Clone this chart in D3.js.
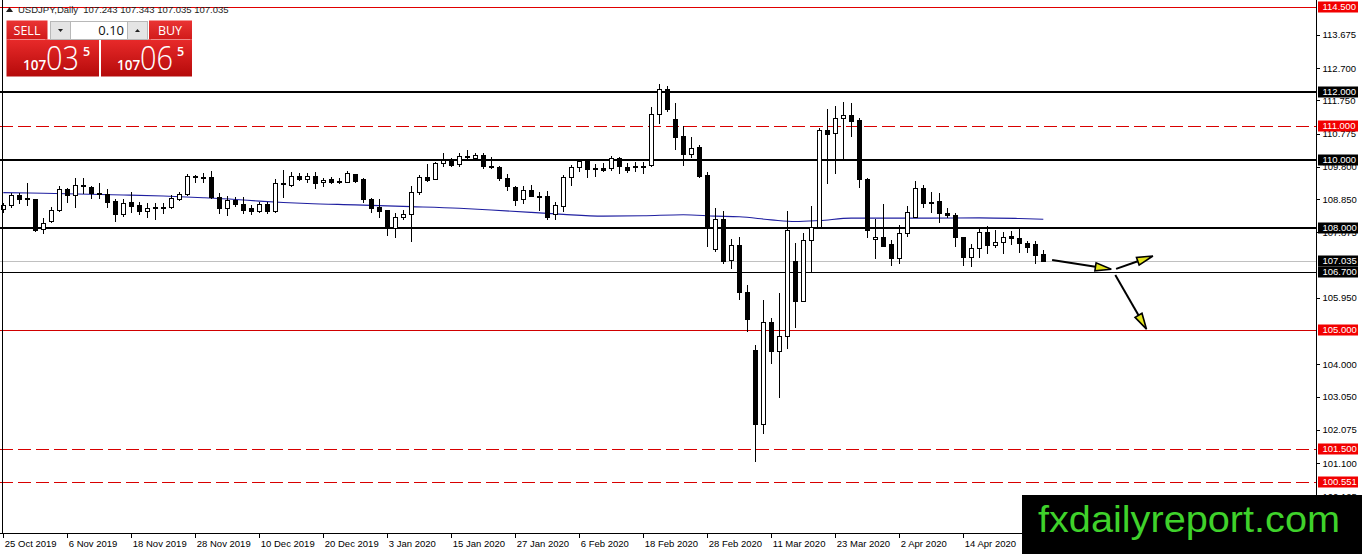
<!DOCTYPE html>
<html lang="en">
<head>
  <meta charset="UTF-8">
  <title>USDJPY, Daily</title>
  <script src="https://d3js.org/d3.v7.min.js"></script>
  <style>
    body { margin: 0; background: #fff; }
    svg { display: block; font-family: "Liberation Sans", Arial, sans-serif; }
  </style>
</head>
<body>
  <svg id="chart" width="1362" height="554"></svg>

  <script>
    // daily bars, oldest first (bar 0 = 25 Oct 2019)
    const opens = [
      108.55, 108.68, 108.97, 108.87, 108.84, 107.98, 108.21, 108.53, 109.14, 108.97,
      109.27, 109.20, 109.03, 108.99, 108.80, 108.40, 108.77, 108.68, 108.51, 108.62,
      108.61, 108.61, 108.85, 108.99, 109.53, 109.49, 109.51, 108.92, 108.58, 108.82,
      108.72, 108.58, 108.51, 108.71, 108.51, 109.31, 109.26, 109.54, 109.43, 109.54,
      109.34, 109.43, 109.39, 109.36, 109.59, 109.43, 108.84, 108.63, 108.53, 108.01,
      108.31, 108.40, 109.07, 109.51, 109.43, 109.90, 109.98, 109.87, 110.10, 110.05,
      110.14, 109.83, 109.80, 109.48, 109.20, 108.84, 109.12, 108.95, 108.94, 108.41,
      108.66, 109.49, 109.78, 110.00, 109.75, 109.77, 109.75, 110.05, 109.78, 109.82,
      109.83, 109.85, 111.35, 112.07, 111.19, 110.70, 110.17, 110.37, 109.55, 107.37,
      108.28, 107.06, 107.50, 106.11, 104.42, 102.26, 105.23, 104.40, 104.84, 107.03,
      105.87, 107.64, 108.02, 110.88, 110.78, 111.22, 111.32, 111.17, 109.43, 107.67,
      107.73, 107.53, 107.11, 107.84, 108.31, 109.17, 108.73, 108.79, 108.43, 108.38,
      107.73, 107.16, 107.40, 107.89, 107.50, 107.58, 107.78, 107.70, 107.57, 107.53,
      107.243
    ];
    const highs = [
      108.73, 109.04, 109.04, 109.31, 108.86, 108.29, 108.63, 109.23, 109.19, 109.46,
      109.46, 109.23, 109.31, 109.14, 108.84, 108.84, 109.05, 108.77, 108.73, 108.75,
      108.73, 108.97, 109.07, 109.59, 109.56, 109.61, 109.68, 109.02, 108.94, 108.92,
      108.90, 108.68, 108.77, 108.77, 109.43, 109.70, 109.66, 109.61, 109.61, 109.64,
      109.48, 109.51, 109.48, 109.68, 109.59, 109.48, 108.87, 108.85, 108.53, 108.43,
      108.53, 109.23, 109.56, 109.87, 109.93, 110.19, 110.05, 110.19, 110.29, 110.19,
      110.19, 110.10, 109.82, 109.58, 109.22, 109.22, 109.26, 109.07, 109.09, 108.77,
      109.56, 109.85, 110.00, 110.00, 109.87, 109.92, 110.12, 110.10, 109.90, 109.95,
      109.95, 111.56, 112.23, 112.17, 111.66, 110.99, 110.68, 110.44, 109.64, 108.58,
      108.51, 107.67, 107.75, 106.33, 104.57, 105.89, 105.35, 106.10, 108.50, 107.55,
      107.85, 108.65, 110.93, 111.49, 111.58, 111.69, 111.66, 111.22, 109.46, 108.28,
      108.71, 107.65, 108.09, 108.65, 109.38, 109.26, 109.07, 109.04, 108.58, 108.43,
      107.73, 107.53, 108.02, 108.06, 107.94, 107.89, 107.91, 108.02, 107.63, 107.63,
      107.343
    ];
    const lows = [
      108.48, 108.63, 108.73, 108.68, 107.91, 107.86, 108.17, 108.51, 108.77, 108.63,
      109.04, 108.87, 108.87, 108.63, 108.22, 108.36, 108.48, 108.41, 108.33, 108.26,
      108.45, 108.60, 108.82, 108.97, 109.36, 109.36, 108.87, 108.45, 108.38, 108.65,
      108.43, 108.40, 108.46, 108.43, 108.48, 108.92, 109.24, 109.41, 109.36, 109.17,
      109.22, 109.31, 109.31, 109.34, 109.36, 108.77, 108.46, 108.33, 107.81, 107.75,
      108.27, 107.62, 108.99, 109.39, 109.43, 109.83, 109.83, 109.83, 110.03, 110.03,
      109.75, 109.75, 109.41, 109.12, 108.68, 108.73, 108.95, 108.53, 108.28, 108.28,
      108.51, 109.26, 109.68, 109.51, 109.53, 109.68, 109.70, 109.61, 109.65, 109.67,
      109.63, 109.82, 111.09, 111.45, 110.31, 109.85, 110.09, 109.51, 107.48, 107.33,
      106.98, 106.82, 105.92, 104.99, 101.17, 101.97, 104.05, 103.05, 104.47, 105.10,
      105.87, 106.72, 107.99, 109.31, 109.63, 110.07, 110.70, 109.20, 107.73, 107.11,
      107.48, 106.90, 106.98, 107.78, 108.31, 108.63, 108.48, 108.19, 108.33, 107.47,
      106.91, 106.89, 107.14, 107.28, 107.45, 107.26, 107.53, 107.30, 107.30, 106.96,
      107.035
    ];
    const closes = [
      108.68, 108.97, 108.85, 108.84, 107.94, 108.16, 108.53, 109.14, 108.97, 109.26,
      109.23, 109.02, 109.00, 108.77, 108.40, 108.75, 108.66, 108.51, 108.58, 108.60,
      108.58, 108.87, 108.99, 109.53, 109.49, 109.51, 108.92, 108.58, 108.82, 108.72,
      108.53, 108.51, 108.71, 108.51, 109.31, 109.28, 109.54, 109.43, 109.54, 109.31,
      109.41, 109.34, 109.37, 109.63, 109.38, 108.84, 108.60, 108.50, 108.04, 108.31,
      108.41, 109.07, 109.49, 109.41, 109.90, 110.00, 109.85, 110.13, 110.11, 110.14,
      109.83, 109.80, 109.46, 109.22, 108.82, 109.12, 108.95, 108.92, 108.33, 108.68,
      109.49, 109.78, 109.97, 109.72, 109.72, 109.70, 110.05, 109.82, 109.70, 109.80,
      109.82, 111.34, 112.07, 111.51, 110.68, 110.16, 110.36, 109.54, 108.06, 108.28,
      107.03, 107.50, 106.11, 105.32, 102.26, 105.23, 104.40, 104.84, 107.94, 105.87,
      107.64, 108.02, 110.88, 110.77, 111.22, 111.32, 111.15, 109.43, 107.94, 107.74,
      107.48, 107.11, 107.84, 108.48, 109.17, 108.73, 108.77, 108.43, 108.38, 107.73,
      107.16, 107.40, 107.89, 107.50, 107.58, 107.75, 107.70, 107.55, 107.43, 107.21,
      107.035
    ];

    // moving average at a few bars
    const maBars = [0, 5, 15, 20, 25, 29, 32, 35, 38, 44, 51, 57, 61, 66, 70, 75, 80, 85, 89, 92, 96, 99, 102, 106, 110, 116, 122, 127, 130];
    const maValues = [109.04, 109.02, 108.97, 108.94, 108.89, 108.84, 108.79, 108.75, 108.72, 108.68, 108.63, 108.58, 108.53, 108.46, 108.40, 108.35, 108.36, 108.39, 108.35, 108.33, 108.24, 108.19, 108.22, 108.29, 108.29, 108.29, 108.30, 108.28, 108.26];

    const dateTicks = [0, 8, 16, 24, 32, 40, 48, 56, 64, 72, 80, 88, 96, 104, 112, 120];
    const dateLabels = ["25 Oct 2019", "6 Nov 2019", "18 Nov 2019", "28 Nov 2019", "10 Dec 2019", "20 Dec 2019",
      "3 Jan 2020", "15 Jan 2020", "27 Jan 2020", "6 Feb 2020", "18 Feb 2020", "28 Feb 2020",
      "11 Mar 2020", "23 Mar 2020", "2 Apr 2020", "14 Apr 2020"];

    // scale labels that are not hidden behind a level tag
    const priceTicks = [113.675, 112.700, 111.750, 110.775, 109.800, 108.850, 107.875,
      105.950, 104.000, 103.050, 102.075, 101.100, 100.125];

    // horizontal levels drawn on the chart
    const levelValues = [114.500, 112.000, 111.000, 110.000, 108.000, 107.035, 106.700, 105.000, 101.500, 100.551];
    const levelTypes = ["limit", "major", "minor", "major", "major", "bid", "support", "target", "minor", "minor"];

    // forecast arrows: [bar, price]
    const arrowFrom = [[131.1, 107.06], [139.1, 106.80], [139.0, 106.62]];
    const arrowTo = [[138.5, 106.79], [143.7, 107.18], [142.9, 105.03]];

    const symbolLine = "USDJPY,Daily  107.243 107.343 107.035 107.035";
    const lotSize = "0.10";
    const bidParts = ["107", "03", "5"];
    const askParts = ["107", "06", "5"];

    const levelStyle = {
      limit:   { stroke: "#e00000", width: 1, dash: null,   box: "#f20000" },
      major:   { stroke: "#000000", width: 2, dash: null,   box: "#000000" },
      minor:   { stroke: "#d80000", width: 1, dash: "13,5", box: "#f20000" },
      bid:     { stroke: "#c0c0c0", width: 1, dash: null,   box: "#000000" },
      support: { stroke: "#000000", width: 1, dash: null,   box: "#000000" },
      target:  { stroke: "#d00000", width: 1, dash: null,   box: "#f20000" }
    };

    const axisX = 1316;   // price scale border
    const axisY = 533;    // time scale border

    const svg = d3.select("#chart");

    const x = d3.scaleLinear().domain([0, 130]).range([3.3, 1043.3]);
    const y = d3.scaleLinear().domain([114.5, 100.551]).range([6.7, 481.7]);

    const bars = opens.map((o, i) => ({ i: i, o: o, h: highs[i], l: lows[i], c: closes[i] }));

    svg.append("rect").attr("width", 1362).attr("height", 554).attr("fill", "#fff");

    // level lines
    const levels = levelValues.map((v, i) => ({ v: v, s: levelStyle[levelTypes[i]] }));
    svg.append("g").selectAll("line")
      .data(levels)
      .enter().append("line")
      .attr("x1", 0)
      .attr("x2", axisX)
      .attr("y1", d => d.s.width === 2 ? Math.round(y(d.v)) : Math.round(y(d.v)) + 0.5)
      .attr("y2", d => d.s.width === 2 ? Math.round(y(d.v)) : Math.round(y(d.v)) + 0.5)
      .attr("stroke", d => d.s.stroke)
      .attr("stroke-width", d => d.s.width)
      .attr("stroke-dasharray", d => d.s.dash)
      .attr("shape-rendering", "crispEdges");

    // moving average
    const ma = maBars.map((b, i) => [b, maValues[i]]);
    svg.append("path")
      .datum(ma)
      .attr("fill", "none")
      .attr("stroke", "#1f1fa0")
      .attr("stroke-width", 1.1)
      .attr("d", d3.line().x(d => x(d[0])).y(d => y(d[1])).curve(d3.curveMonotoneX));

    // candles
    const candles = svg.append("g").attr("shape-rendering", "crispEdges");
    candles.selectAll(".wick")
      .data(bars)
      .enter().append("line")
      .attr("class", "wick")
      .attr("x1", d => Math.round(x(d.i)) + 0.5)
      .attr("x2", d => Math.round(x(d.i)) + 0.5)
      .attr("y1", d => Math.round(y(d.h)))
      .attr("y2", d => Math.round(y(d.l)) + 1)
      .attr("stroke", "#000");

    candles.selectAll(".body")
      .data(bars)
      .enter().append("rect")
      .attr("class", "body")
      .attr("x", d => Math.round(x(d.i)) - 1.5)
      .attr("y", d => Math.round(y(Math.max(d.o, d.c))) + 0.5)
      .attr("width", 4)
      .attr("height", d => Math.max(Math.round(y(Math.min(d.o, d.c))) - Math.round(y(Math.max(d.o, d.c))), 1))
      .attr("fill", d => d.c >= d.o ? "#fff" : "#000")
      .attr("stroke", "#000");

    // forecast arrows
    const arrows = svg.append("g");
    arrowFrom.forEach((a, i) => {
      const x0 = x(a[0]), y0 = y(a[1]);
      const x1 = x(arrowTo[i][0]), y1 = y(arrowTo[i][1]);
      const len = Math.hypot(x1 - x0, y1 - y0);
      const ux = (x1 - x0) / len, uy = (y1 - y0) / len;
      const bx = x1 - ux * 16, by = y1 - uy * 16;
      arrows.append("line")
        .attr("x1", x0).attr("y1", y0)
        .attr("x2", bx).attr("y2", by)
        .attr("stroke", "#000")
        .attr("stroke-width", 2);
      arrows.append("path")
        .attr("d", `M${x1},${y1}L${bx - uy * 4},${by + ux * 4}L${bx + uy * 4},${by - ux * 4}Z`)
        .attr("fill", "#e4e41c")
        .attr("stroke", "#000")
        .attr("stroke-width", 1.6)
        .attr("stroke-linejoin", "miter");
    });

    // frame
    svg.append("line").attr("x1", 2.5).attr("x2", 2.5).attr("y1", 0).attr("y2", axisY)
      .attr("stroke", "#000").attr("shape-rendering", "crispEdges");
    svg.append("line").attr("x1", 0).attr("x2", axisX + 0.5).attr("y1", axisY + 0.5).attr("y2", axisY + 0.5)
      .attr("stroke", "#000").attr("shape-rendering", "crispEdges");
    svg.append("line").attr("x1", axisX + 0.5).attr("x2", axisX + 0.5).attr("y1", 0).attr("y2", 554)
      .attr("stroke", "#000").attr("shape-rendering", "crispEdges");

    // price scale
    const yAxis = svg.append("g")
      .attr("transform", `translate(${axisX + 0.5},0)`)
      .call(d3.axisRight(y).tickValues(priceTicks).tickFormat(d3.format(".3f")).tickSize(3).tickPadding(3));
    yAxis.select(".domain").remove();
    yAxis.selectAll("line").attr("stroke", "#000").attr("shape-rendering", "crispEdges");
    yAxis.selectAll("text").attr("font-size", "9.5px").attr("fill", "#000")
      .attr("font-family", "'Liberation Sans', Arial, sans-serif");

    // time scale
    const xAxis = svg.append("g")
      .attr("transform", `translate(0,${axisY + 0.5})`)
      .call(d3.axisBottom(x).tickValues(dateTicks).tickFormat((d, i) => dateLabels[i]).tickSize(4).tickPadding(3));
    xAxis.select(".domain").remove();
    xAxis.selectAll("line").attr("stroke", "#000").attr("shape-rendering", "crispEdges");
    xAxis.selectAll("text").attr("font-size", "9.5px").attr("fill", "#000")
      .attr("text-anchor", "start").attr("dx", "1")
      .attr("font-family", "'Liberation Sans', Arial, sans-serif");

    // level price tags
    const tags = svg.append("g").selectAll("g")
      .data(levels)
      .enter().append("g")
      .attr("transform", d => `translate(${axisX + 2},${Math.round(y(d.v))})`);
    tags.append("rect")
      .attr("x", 0).attr("y", -5.5)
      .attr("width", 40).attr("height", 11)
      .attr("fill", d => d.s.box);
    tags.append("text")
      .attr("x", 4.5).attr("y", 0)
      .attr("dy", "0.35em")
      .attr("font-size", "9.5px")
      .attr("fill", "#fff")
      .text(d => d3.format(".3f")(d.v));

    // symbol line
    svg.append("path").attr("d", "M6,12L9.5,7L13,12Z").attr("fill", "#222");
    svg.append("text")
      .attr("x", 18).attr("y", 13)
      .attr("font-size", "9.5px")
      .attr("fill", "#222")
      .attr("xml:space", "preserve")
      .style("white-space", "pre")
      .text(symbolLine);

    // one click trading panel
    const defs = svg.append("defs");
    const grad = defs.append("linearGradient").attr("id", "red").attr("x1", 0).attr("x2", 0).attr("y1", 0).attr("y2", 1);
    grad.append("stop").attr("offset", "0%").attr("stop-color", "#e82a2a");
    grad.append("stop").attr("offset", "100%").attr("stop-color", "#b50a0a");
    const gradTop = defs.append("linearGradient").attr("id", "redTop").attr("x1", 0).attr("x2", 0).attr("y1", 0).attr("y2", 1);
    gradTop.append("stop").attr("offset", "0%").attr("stop-color", "#ea3434");
    gradTop.append("stop").attr("offset", "100%").attr("stop-color", "#d11a1a");

    const panel = svg.append("g");
    panel.append("rect").attr("x", 6.5).attr("y", 20.5).attr("width", 41).attr("height", 19).attr("fill", "url(#redTop)");
    panel.append("rect").attr("x", 149).attr("y", 20.5).attr("width", 43).attr("height", 19).attr("fill", "url(#redTop)");
    panel.append("rect").attr("x", 6.5).attr("y", 39.5).attr("width", 92.5).attr("height", 37).attr("fill", "url(#red)");
    panel.append("rect").attr("x", 101).attr("y", 39.5).attr("width", 91).attr("height", 37).attr("fill", "url(#red)");
    panel.append("line").attr("x1", 10).attr("x2", 45).attr("y1", 39.5).attr("y2", 39.5).attr("stroke", "#f08a8a");
    panel.append("line").attr("x1", 151).attr("x2", 190).attr("y1", 39.5).attr("y2", 39.5).attr("stroke", "#f08a8a");

    panel.append("rect").attr("x", 50.5).attr("y", 21.5).attr("width", 97).attr("height", 18).attr("fill", "#fff").attr("stroke", "#b8b8b8");
    panel.append("rect").attr("x", 50.5).attr("y", 21.5).attr("width", 20).attr("height", 18).attr("fill", "#e4e4e4").attr("stroke", "#b8b8b8");
    panel.append("rect").attr("x", 127.5).attr("y", 21.5).attr("width", 20).attr("height", 18).attr("fill", "#e4e4e4").attr("stroke", "#b8b8b8");
    panel.append("path").attr("d", "M58,29L63,29L60.5,32Z").attr("fill", "#222");
    panel.append("path").attr("d", "M135,32L140,32L137.5,29Z").attr("fill", "#222");
    panel.append("text").attr("x", 124).attr("y", 35).attr("text-anchor", "end")
      .attr("font-size", "13px").attr("fill", "#111").attr("font-family", "'Open Sans', sans-serif").text(lotSize);

    panel.append("text").attr("x", 27).attr("y", 35).attr("text-anchor", "middle")
      .attr("font-size", "12.5px").attr("fill", "#fff").attr("font-family", "'Open Sans', sans-serif").text("SELL");
    panel.append("text").attr("x", 170).attr("y", 35).attr("text-anchor", "middle")
      .attr("font-size", "12.5px").attr("fill", "#fff").attr("font-family", "'Open Sans', sans-serif").text("BUY");

    [[bidParts, 23], [askParts, 117]].forEach(([parts, px]) => {
      panel.append("text").attr("x", px).attr("y", 70)
        .attr("font-size", "13.5px").attr("font-weight", 600).attr("fill", "#fff")
        .attr("font-family", "'Open Sans', sans-serif").text(parts[0]);
      panel.append("text").attr("x", px + 23).attr("y", 70)
        .attr("font-size", "33px").attr("font-weight", 300).attr("fill", "#fff")
        .attr("textLength", 33).attr("lengthAdjust", "spacingAndGlyphs")
        .attr("font-family", "'Open Sans', sans-serif").text(parts[1]);
      panel.append("text").attr("x", px + 60).attr("y", 56)
        .attr("font-size", "12.5px").attr("font-weight", 600).attr("fill", "#fff")
        .attr("font-family", "'Open Sans', sans-serif").text(parts[2]);
    });

    // watermark
    svg.append("rect").attr("x", 1022).attr("y", 495).attr("width", 340).attr("height", 59).attr("fill", "#000");
    svg.append("text")
      .attr("x", 1038).attr("y", 532)
      .attr("font-size", "37px")
      .attr("fill", "#3fd22b")
      .attr("textLength", 302)
      .attr("lengthAdjust", "spacingAndGlyphs")
      .text("fxdailyreport.com");
  </script>
</body>
</html>
